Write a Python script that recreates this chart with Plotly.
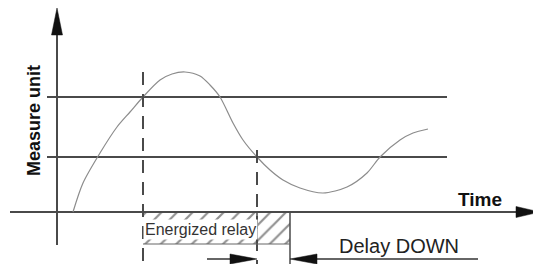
import plotly.graph_objects as go

# ---------------- data (time units, measure units) ----------------
curve_t = [16, 26, 43, 60, 73, 86, 103, 115, 128, 143, 153, 163, 176, 186, 200,
           213, 226, 243, 266, 290, 310, 323, 343, 356, 371]
curve_m = [0, 29, 59, 85, 100, 115, 132, 138, 140, 136, 127, 115, 89, 72, 55,
           42, 32, 24, 19, 25, 39, 55, 72, 79, 83]

upper_level = 115
lower_level = 55
threshold_span = [-10, 390]

t_on = 86        # relay energized (upper threshold crossed)
t_release = 200  # lower threshold crossed, delay starts
t_off = 233      # relay released after Delay DOWN

time_axis_span = [-47, 483]
measure_axis_span = [-33, 204]

relay_depth = 32          # height of the relay band below the time axis
delay_level = -47         # level of the delay dimension arrows
dashed_top_on = 140
dashed_top_release = 62
bottom_level = -52

labels = {"y": "Measure unit", "x": "Time", "relay": "Energized relay", "delay": "Delay DOWN"}

# ---------------- styles ----------------
AX = "#4a4a4a"
FONT = "Liberation Sans, Arial, sans-serif"

fig = go.Figure()

def line(xs, ys, color=AX, width=2, dash=None):
    fig.add_trace(go.Scatter(x=xs, y=ys, mode="lines", hoverinfo="skip",
                             line=dict(color=color, width=width, dash=dash)))

def tri(xs, ys, color="#111"):
    fig.add_trace(go.Scatter(x=xs, y=ys, mode="lines", fill="toself", fillcolor=color,
                             line=dict(color=color, width=0.5), hoverinfo="skip"))

# relay band with hatching
fig.add_trace(go.Bar(x=[(t_on + t_off) / 2], y=[relay_depth], base=[-relay_depth],
                     width=[t_off - t_on], hoverinfo="skip",
                     marker=dict(color="white", line=dict(width=0),
                                 pattern=dict(shape="/", fgcolor="#222", bgcolor="white",
                                              size=11, solidity=0.2, fillmode="overlay"))))

# thresholds
line(threshold_span, [upper_level, upper_level])
line(threshold_span, [lower_level, lower_level])

# axes
ah_len, ah_half = 27, 5.5
line([0, 0], [measure_axis_span[0], measure_axis_span[1] - ah_len])
tri([-ah_half, ah_half, 0, -ah_half],
    [measure_axis_span[1] - ah_len] * 2 + [measure_axis_span[1], measure_axis_span[1] - ah_len])
xah_len, xah_half = 24, 5.5
line([time_axis_span[0], time_axis_span[1] - xah_len], [0, 0])
tri([time_axis_span[1] - xah_len] * 2 + [time_axis_span[1], time_axis_span[1] - xah_len],
    [-xah_half, xah_half, 0, -xah_half])

# measurement curve
fig.add_trace(go.Scatter(x=curve_t, y=curve_m, mode="lines", hoverinfo="skip",
                         line=dict(color="#8c8c8c", width=1.2, shape="spline", smoothing=0.8)))

# event lines
line([t_on, t_on], [dashed_top_on, bottom_level], dash="13px,9px")
line([t_release, t_release], [dashed_top_release, bottom_level], dash="13px,9px")
line([t_release, t_release], [0, -relay_depth], width=1.5)
line([t_off, t_off], [0, bottom_level], width=1.5)
line([t_on, t_off], [-relay_depth, -relay_depth], width=1, color="#666")

# delay dimension arrows
dah_len, dah_half = 27, 5
line([t_release - 50, t_release - dah_len], [delay_level, delay_level], width=1.5, color="#333")
tri([t_release - dah_len] * 2 + [t_release, t_release - dah_len],
    [delay_level - dah_half, delay_level + dah_half, delay_level, delay_level - dah_half])
line([t_off + dah_len, t_off + 188], [delay_level, delay_level], width=1.5, color="#333")
tri([t_off + dah_len] * 2 + [t_off, t_off + dah_len],
    [delay_level - dah_half, delay_level + dah_half, delay_level, delay_level - dah_half])

# texts
fig.add_annotation(x=-23, y=91, text="<b>%s</b>" % labels["y"], showarrow=False, textangle=-90,
                   font=dict(family=FONT, size=18, color="#111"), xanchor="center", yanchor="middle")
fig.add_annotation(x=423, y=13, text="<b>%s</b>" % labels["x"], showarrow=False,
                   font=dict(family=FONT, size=19, color="#111"))
fig.add_annotation(x=(t_on + t_release) / 2, y=-relay_depth / 2 - 1, text=labels["relay"],
                   showarrow=False, bgcolor="white", borderpad=1,
                   font=dict(family=FONT, size=16, color="#333"))
fig.add_annotation(x=342, y=-34, text=labels["delay"], showarrow=False,
                   font=dict(family=FONT, size=20, color="#222"))

# page body has an 8px margin: figure sized/ranged so the drawing lands where intended
fig.update_layout(width=533, height=256, margin=dict(l=0, r=0, t=0, b=0),
                  paper_bgcolor="white", plot_bgcolor="white", showlegend=False,
                  xaxis=dict(range=[-49, 484], visible=False, fixedrange=True),
                  yaxis=dict(range=[-52, 204], visible=False, fixedrange=True))
fig.write_html("out.html")
